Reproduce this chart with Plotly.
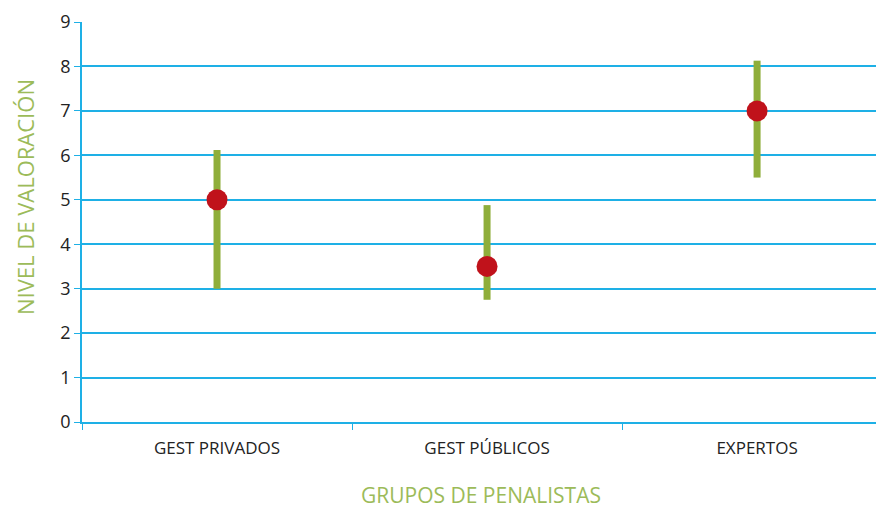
import plotly.graph_objects as go

categories = ["GEST PRIVADOS", "GEST PÚBLICOS", "EXPERTOS"]
means = [5.0, 3.5, 7.0]
lows = [3.0, 2.75, 5.5]
highs = [6.12, 4.88, 8.13]

grid = "#1eb0e6"
green = "#8fae3a"
red = "#c0121b"

fig = go.Figure()
fig.add_trace(go.Scatter(
    x=categories, y=means, mode="markers",
    marker=dict(color=red, size=21, line=dict(width=0)),
    error_y=dict(type="data", symmetric=False,
                 array=[h - m for h, m in zip(highs, means)],
                 arrayminus=[m - l for m, l in zip(means, lows)],
                 color=green, thickness=7, width=0),
    showlegend=False, cliponaxis=False,
))

fig.update_layout(
    width=876, height=501,
    margin=dict(l=74, r=0, t=14, b=87),
    paper_bgcolor="white", plot_bgcolor="white",
    font=dict(family="Open Sans", color="#222"),
    xaxis=dict(
        type="category", range=[-0.5, 2.47],
        showgrid=False, showline=True, linecolor=grid, linewidth=1.5,
        zeroline=False,
        ticks="outside", tickson="boundaries", ticklen=6, tickcolor=grid,
        ticklabelstandoff=10,
        tickfont=dict(size=17, color="#222"),
    ),
    yaxis=dict(
        range=[0, 9], dtick=1,
        showgrid=True, gridcolor=grid, gridwidth=1.5,
        showline=True, linecolor=grid, linewidth=1.5,
        zeroline=False,
        ticks="outside", ticklen=6, tickcolor=grid,
        tickfont=dict(size=18, color="#222"),
    ),
    annotations=[
        dict(text="NIVEL DE VALORACIÓN", textangle=-90, xref="paper", yref="paper",
             x=-(82 - 25) / 802, y=0.5625, xanchor="center", yanchor="middle",
             showarrow=False, font=dict(size=22, color="#9cbb59", family="Open Sans")),
        dict(text="GRUPOS DE PENALISTAS", xref="paper", yref="paper",
             x=0.497, y=-73 / 400, xanchor="center", yanchor="middle",
             showarrow=False, font=dict(size=21, color="#9cbb59", family="Open Sans")),
    ],
)
fig.write_html("out.html")
